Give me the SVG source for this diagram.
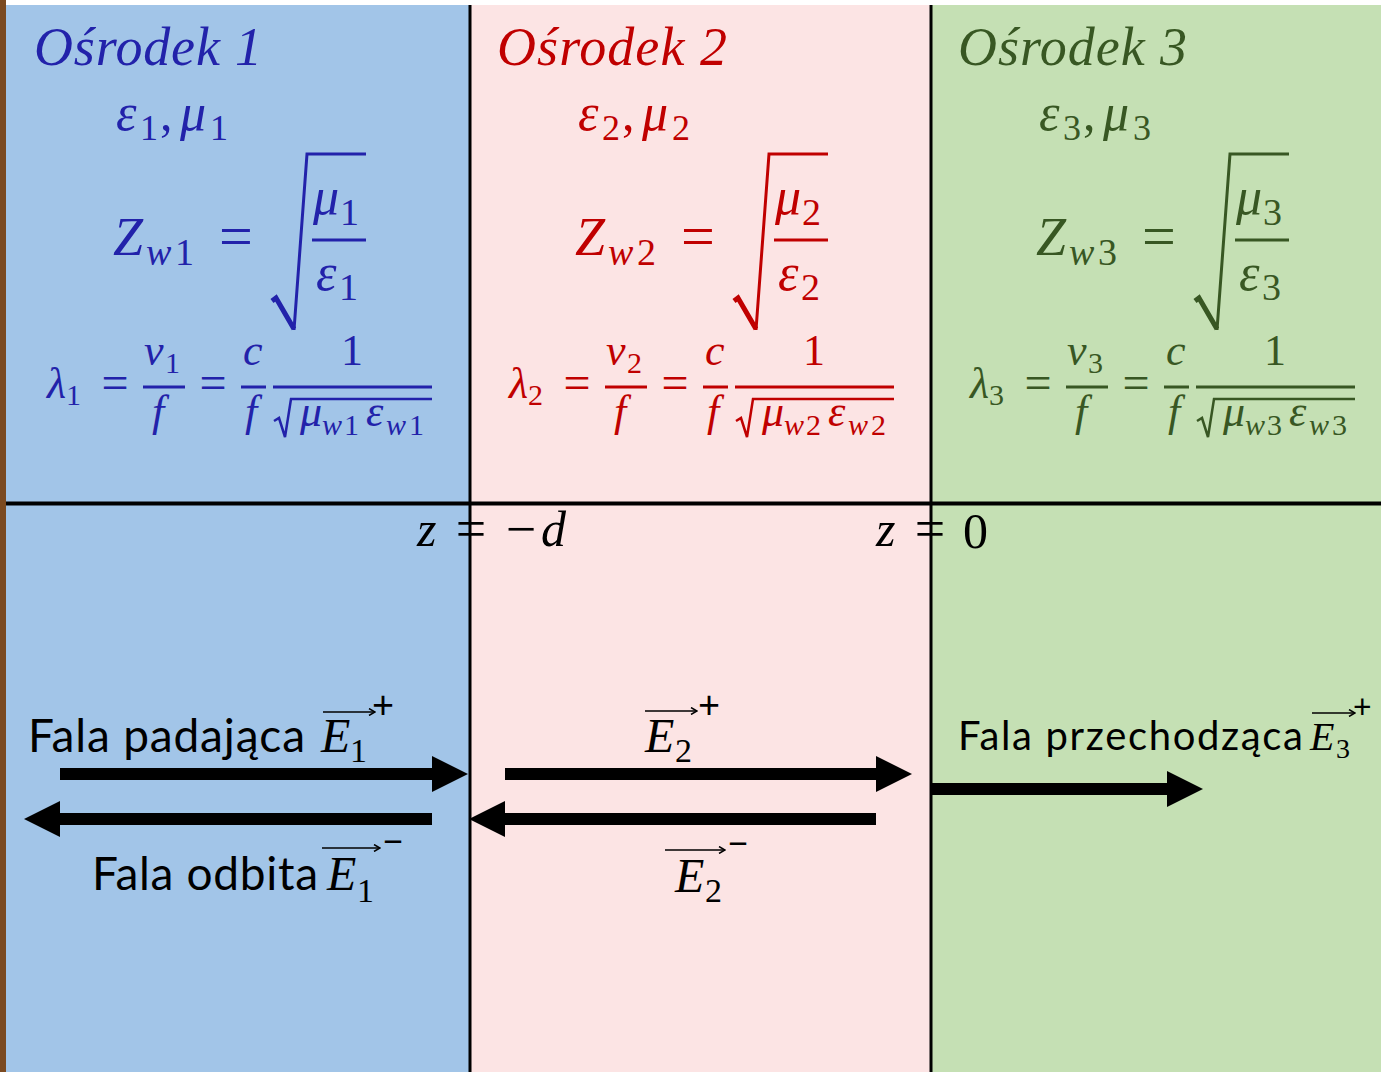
<svg xmlns="http://www.w3.org/2000/svg" width="1381" height="1072" viewBox="0 0 1381 1072">
<style>
.t{font-family:"Liberation Serif",serif;font-style:italic;font-size:54px}
.m{font-family:"Liberation Serif",serif;font-style:italic}
.u{font-family:"Liberation Serif",serif;font-style:normal}
.s{font-family:Lato,"Liberation Sans",sans-serif}
.rad{fill:none;stroke-linejoin:miter;stroke-linecap:butt}
.wave{stroke:#000;stroke-width:12;marker-end:url(#head)}
.vec{stroke:#000;stroke-width:1.6;marker-end:url(#vhead)}
</style>
<defs>
<marker id="head" viewBox="0 0 3 3" refX="0" refY="1.5" markerWidth="3" markerHeight="3" orient="auto"><path d="M0,0 L3,1.5 L0,3 Z" fill="#000"/></marker>
<marker id="vhead" viewBox="0 0 8 8" refX="7" refY="4" markerWidth="8" markerHeight="8" markerUnits="userSpaceOnUse" orient="auto"><path d="M1,0.5 L7,4 L1,7.5" fill="none" stroke="#000" stroke-width="1.5"/></marker>
</defs>
<rect x="0" y="0" width="1381" height="1072" fill="#ffffff"/>
<rect x="0" y="0" width="6" height="1072" fill="#7b4a21"/>
<g id="medium1"><rect x="6" y="5" width="464" height="1067" fill="#a2c5e8"/></g>
<g id="medium2"><rect x="470" y="5" width="461" height="1067" fill="#fce4e4"/></g>
<g id="medium3"><rect x="931" y="5" width="450" height="1067" fill="#c5e0b4"/></g>
<g id="boundaries" fill="#000">
<rect x="468.5" y="5" width="3" height="1067"/>
<rect x="929.5" y="5" width="3" height="1067"/>
<rect x="6" y="501.5" width="1375" height="4"/>
</g>

<g id="formulas1" fill="#2222aa">
<text class="t" x="34" y="65" textLength="228">Ośrodek 1</text>
<text class="m" x="116" y="130" font-size="52">ε</text><text class="u" x="140" y="140" font-size="36">1</text><text class="u" x="160" y="130" font-size="50">,</text><text class="m" x="180" y="130" font-size="52">μ</text><text class="u" x="210" y="140" font-size="36">1</text>
<text class="m" x="113" y="255" font-size="54">Z</text><text class="m" x="146" y="265" font-size="38">w</text><text class="u" x="175" y="265" font-size="38">1</text>
<text class="u" x="236" y="256" font-size="60" text-anchor="middle">=</text>
<path class="rad" stroke="#2222aa" stroke-width="5" d="M272,301 L276,298 L294,329"/>
<path class="rad" stroke="#2222aa" stroke-width="3" d="M294,330 L307,154 L366,154"/>
<text class="m" x="313" y="214" font-size="52">μ</text><text class="u" x="340" y="225" font-size="38">1</text>
<rect x="312" y="238.5" width="54" height="3"/>
<text class="m" x="316" y="290" font-size="52">ε</text><text class="u" x="339" y="300" font-size="38">1</text>
<text class="m" x="47" y="398" font-size="44">λ</text><text class="u" x="66" y="405" font-size="30">1</text>
<text class="u" x="115" y="399" font-size="48" text-anchor="middle">=</text>
<text class="m" x="144" y="365" font-size="44">v</text><text class="u" x="165" y="373" font-size="30">1</text>
<rect x="143" y="385.5" width="42" height="3"/>
<text class="m" x="152" y="426" font-size="44">f</text>
<text class="u" x="213" y="399" font-size="48" text-anchor="middle">=</text>
<text class="m" x="243" y="365" font-size="44">c</text>
<rect x="241" y="385.5" width="25" height="3"/>
<text class="m" x="245" y="426" font-size="44">f</text>
<rect x="273" y="385.5" width="159" height="3"/>
<text class="u" x="352" y="365" font-size="44" text-anchor="middle">1</text>
<path class="rad" stroke="#2222aa" stroke-width="2.5" d="M274,421 L279,418 L285,437 L291,399 L432,399"/>
<text class="m" x="300" y="426" font-size="44">μ</text><text class="m" x="322" y="435" font-size="30">w</text><text class="u" x="344" y="435" font-size="30">1</text>
<text class="m" x="366" y="426" font-size="44">ε</text><text class="m" x="386" y="435" font-size="30">w</text><text class="u" x="409" y="435" font-size="30">1</text>
</g>

<g id="formulas2" fill="#c00000" transform="translate(462,0)">
<text class="t" x="35" y="65" textLength="230">Ośrodek 2</text>
<text class="m" x="116" y="130" font-size="52">ε</text><text class="u" x="140" y="140" font-size="36">2</text><text class="u" x="160" y="130" font-size="50">,</text><text class="m" x="180" y="130" font-size="52">μ</text><text class="u" x="210" y="140" font-size="36">2</text>
<text class="m" x="113" y="255" font-size="54">Z</text><text class="m" x="146" y="265" font-size="38">w</text><text class="u" x="175" y="265" font-size="38">2</text>
<text class="u" x="236" y="256" font-size="60" text-anchor="middle">=</text>
<path class="rad" stroke="#c00000" stroke-width="5" d="M272,301 L276,298 L294,329"/>
<path class="rad" stroke="#c00000" stroke-width="3" d="M294,330 L307,154 L366,154"/>
<text class="m" x="313" y="214" font-size="52">μ</text><text class="u" x="340" y="225" font-size="38">2</text>
<rect x="312" y="238.5" width="54" height="3"/>
<text class="m" x="316" y="290" font-size="52">ε</text><text class="u" x="339" y="300" font-size="38">2</text>
<text class="m" x="47" y="398" font-size="44">λ</text><text class="u" x="66" y="405" font-size="30">2</text>
<text class="u" x="115" y="399" font-size="48" text-anchor="middle">=</text>
<text class="m" x="144" y="365" font-size="44">v</text><text class="u" x="165" y="373" font-size="30">2</text>
<rect x="143" y="385.5" width="42" height="3"/>
<text class="m" x="152" y="426" font-size="44">f</text>
<text class="u" x="213" y="399" font-size="48" text-anchor="middle">=</text>
<text class="m" x="243" y="365" font-size="44">c</text>
<rect x="241" y="385.5" width="25" height="3"/>
<text class="m" x="245" y="426" font-size="44">f</text>
<rect x="273" y="385.5" width="159" height="3"/>
<text class="u" x="352" y="365" font-size="44" text-anchor="middle">1</text>
<path class="rad" stroke="#c00000" stroke-width="2.5" d="M274,421 L279,418 L285,437 L291,399 L432,399"/>
<text class="m" x="300" y="426" font-size="44">μ</text><text class="m" x="322" y="435" font-size="30">w</text><text class="u" x="344" y="435" font-size="30">2</text>
<text class="m" x="366" y="426" font-size="44">ε</text><text class="m" x="386" y="435" font-size="30">w</text><text class="u" x="409" y="435" font-size="30">2</text>
</g>

<g id="formulas3" fill="#385723" transform="translate(923,0)">
<text class="t" x="35" y="65" textLength="229">Ośrodek 3</text>
<text class="m" x="116" y="130" font-size="52">ε</text><text class="u" x="140" y="140" font-size="36">3</text><text class="u" x="160" y="130" font-size="50">,</text><text class="m" x="180" y="130" font-size="52">μ</text><text class="u" x="210" y="140" font-size="36">3</text>
<text class="m" x="113" y="255" font-size="54">Z</text><text class="m" x="146" y="265" font-size="38">w</text><text class="u" x="175" y="265" font-size="38">3</text>
<text class="u" x="236" y="256" font-size="60" text-anchor="middle">=</text>
<path class="rad" stroke="#385723" stroke-width="5" d="M272,301 L276,298 L294,329"/>
<path class="rad" stroke="#385723" stroke-width="3" d="M294,330 L307,154 L366,154"/>
<text class="m" x="313" y="214" font-size="52">μ</text><text class="u" x="340" y="225" font-size="38">3</text>
<rect x="312" y="238.5" width="54" height="3"/>
<text class="m" x="316" y="290" font-size="52">ε</text><text class="u" x="339" y="300" font-size="38">3</text>
<text class="m" x="47" y="398" font-size="44">λ</text><text class="u" x="66" y="405" font-size="30">3</text>
<text class="u" x="115" y="399" font-size="48" text-anchor="middle">=</text>
<text class="m" x="144" y="365" font-size="44">v</text><text class="u" x="165" y="373" font-size="30">3</text>
<rect x="143" y="385.5" width="42" height="3"/>
<text class="m" x="152" y="426" font-size="44">f</text>
<text class="u" x="213" y="399" font-size="48" text-anchor="middle">=</text>
<text class="m" x="243" y="365" font-size="44">c</text>
<rect x="241" y="385.5" width="25" height="3"/>
<text class="m" x="245" y="426" font-size="44">f</text>
<rect x="273" y="385.5" width="159" height="3"/>
<text class="u" x="352" y="365" font-size="44" text-anchor="middle">1</text>
<path class="rad" stroke="#385723" stroke-width="2.5" d="M274,421 L279,418 L285,437 L291,399 L432,399"/>
<text class="m" x="300" y="426" font-size="44">μ</text><text class="m" x="322" y="435" font-size="30">w</text><text class="u" x="344" y="435" font-size="30">3</text>
<text class="m" x="366" y="426" font-size="44">ε</text><text class="m" x="386" y="435" font-size="30">w</text><text class="u" x="409" y="435" font-size="30">3</text>
</g>

<g id="positions" fill="#000">
<text class="m" x="417" y="546" font-size="50">z</text>
<text class="u" x="471" y="547" font-size="54" text-anchor="middle">=</text>
<text class="u" x="521" y="547" font-size="54" text-anchor="middle">−</text>
<text class="m" x="541" y="546" font-size="50">d</text>
<text class="m" x="876" y="546" font-size="50">z</text>
<text class="u" x="930" y="547" font-size="54" text-anchor="middle">=</text>
<text class="u" x="963" y="548" font-size="50">0</text>
</g>

<g id="connectors">
<line class="wave" x1="60" y1="774" x2="432" y2="774"/>
<line class="wave" x1="432" y1="819" x2="60" y2="819"/>
<line class="wave" x1="505" y1="774" x2="876" y2="774"/>
<line class="wave" x1="876" y1="819" x2="505" y2="819"/>
<line class="wave" x1="932" y1="789" x2="1167" y2="789"/>
</g>

<g id="label-incident" fill="#000">
<text class="s" x="28" y="752" font-size="46" textLength="277">Fala padająca</text>
<text class="m" x="321" y="752" font-size="48">E</text><text class="u" x="350" y="762" font-size="34">1</text>
<line class="vec" x1="323" y1="712" x2="375" y2="712"/>
<text class="s" x="372" y="718" font-size="38">+</text>
</g>
<g id="label-reflected" fill="#000">
<text class="s" x="92" y="890" font-size="46" textLength="226">Fala odbita</text>
<text class="m" x="327" y="890" font-size="48">E</text><text class="u" x="357" y="902" font-size="34">1</text>
<line class="vec" x1="322" y1="848" x2="380" y2="848"/>
<text class="s" x="382" y="855" font-size="38">−</text>
</g>
<g id="label-e2plus" fill="#000">
<text class="m" x="645" y="752" font-size="48">E</text><text class="u" x="675" y="762" font-size="34">2</text>
<line class="vec" x1="645" y1="711" x2="697" y2="711"/>
<text class="s" x="698" y="718" font-size="38">+</text>
</g>
<g id="label-e2minus" fill="#000">
<text class="m" x="675" y="892" font-size="48">E</text><text class="u" x="705" y="902" font-size="34">2</text>
<line class="vec" x1="665" y1="850" x2="725" y2="850"/>
<text class="s" x="727" y="857" font-size="38">−</text>
</g>
<g id="label-transmitted" fill="#000">
<text class="s" x="958" y="750" font-size="40" textLength="345">Fala przechodząca</text>
<text class="m" x="1310" y="750" font-size="40">E</text><text class="u" x="1336" y="758" font-size="28">3</text>
<line class="vec" x1="1312" y1="713" x2="1355" y2="713"/>
<text class="s" x="1353" y="718" font-size="32">+</text>
</g>
</svg>
